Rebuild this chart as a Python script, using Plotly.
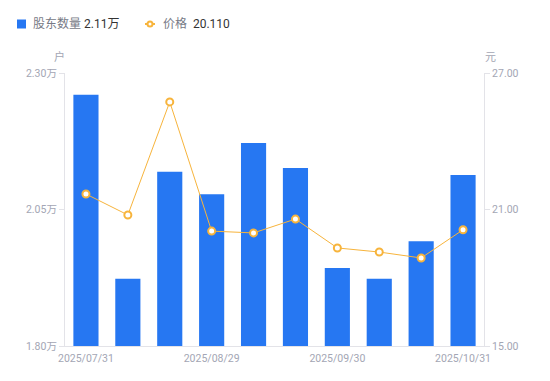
import plotly.graph_objects as go

dates = ["2025/07/31", "2025/08/08", "2025/08/20", "2025/08/29", "2025/09/10",
         "2025/09/19", "2025/09/30", "2025/10/10", "2025/10/20", "2025/10/31"]
holders = [2.260, 1.923, 2.119, 2.078, 2.172, 2.126, 1.943, 1.923, 1.992, 2.113]  # 万户
price = [21.68, 20.76, 25.73, 20.05, 19.97, 20.58, 19.31, 19.13, 18.87, 20.11]
shown_ticks = ["2025/07/31", "2025/08/29", "2025/09/30", "2025/10/31"]
left_ticks = [1.80, 2.05, 2.30]
right_ticks = [15.0, 21.0, 27.0]

BLUE = "#2677F2"
ORANGE = "#F7B43C"
TICKC = "#A3A6B4"
AXC = "#E3E3E8"
FONT = "Roboto, 'Noto Sans CJK SC', sans-serif"

fig = go.Figure()
fig.add_trace(go.Bar(x=dates, y=holders, marker=dict(color=BLUE, line=dict(width=0)),
                     width=0.6, yaxis="y", showlegend=False))
fig.add_trace(go.Scatter(x=dates, y=price, yaxis="y2", mode="lines+markers",
                         line=dict(color=ORANGE, width=1),
                         marker=dict(symbol="circle", size=7, color="white",
                                     line=dict(color=ORANGE, width=2)),
                         showlegend=False))

L, R, T, B = 65, 66, 73, 35
W, H = 550, 381
pw, ph = W - L - R, H - T - B

def px(x):
    return (x - L) / pw

def py(y):
    return (H - B - y) / ph

annotations = [
    dict(x=px(31), y=py(24), xref="paper", yref="paper", xanchor="left", yanchor="middle",
         text=f"<span style='color:#777A86'>股东数量</span> <span style='color:#333333'>{holders[-1]:.2f}万</span>",
         showarrow=False, font=dict(size=12, family=FONT)),
    dict(x=px(161), y=py(24), xref="paper", yref="paper", xanchor="left", yanchor="middle",
         text=f"<span style='color:#777A86'>价格</span>  <span style='color:#333333'>{price[-1]:.3f}</span>",
         showarrow=False, font=dict(size=12, family=FONT)),
    dict(x=px(59), y=py(57), xref="paper", yref="paper", xanchor="center", yanchor="middle",
         text="户", showarrow=False, font=dict(size=11, color=TICKC, family=FONT)),
    dict(x=px(490), y=py(57), xref="paper", yref="paper", xanchor="center", yanchor="middle",
         text="元", showarrow=False, font=dict(size=11, color=TICKC, family=FONT)),
]
shapes = [
    dict(type="rect", xref="paper", yref="paper", x0=px(17), x1=px(26), y0=py(28.5), y1=py(19.5),
         fillcolor=BLUE, line=dict(width=0)),
    dict(type="line", xref="paper", yref="paper", x0=px(145), x1=px(155), y0=py(24), y1=py(24),
         line=dict(color=ORANGE, width=2)),
    dict(type="circle", xref="paper", yref="paper", x0=px(147.5), x1=px(152.5), y0=py(26.5), y1=py(21.5),
         fillcolor="white", line=dict(color=ORANGE, width=2)),
]

fig.update_layout(
    width=W, height=H, margin=dict(l=L, r=R, t=T, b=B),
    paper_bgcolor="white", plot_bgcolor="white",
    font=dict(family=FONT, size=11, color=TICKC),
    bargap=0.4,
    xaxis=dict(type="category", range=[-0.5, len(dates) - 0.5], tickmode="array",
               tickvals=shown_ticks, ticktext=shown_ticks, ticklabelstandoff=2,
               showline=True, linecolor=AXC, linewidth=1, ticks="", showgrid=False,
               tickfont=dict(size=10.5, color=TICKC), zeroline=False, fixedrange=True),
    yaxis=dict(range=[1.80, 2.30], tickmode="array", tickvals=left_ticks,
               ticktext=[f"{v:.2f}万" for v in left_ticks], showline=True, linecolor=AXC,
               linewidth=1, ticks="outside", ticklen=5, tickcolor=AXC, showgrid=False,
               zeroline=False, tickfont=dict(size=10.5, color=TICKC)),
    yaxis2=dict(range=[15, 27], overlaying="y", side="right", tickmode="array",
                tickvals=right_ticks, ticktext=[f"{v:.2f}" for v in right_ticks],
                showline=True, linecolor=AXC, linewidth=1, ticks="outside", ticklen=5,
                tickcolor=AXC, showgrid=False, zeroline=False,
                tickfont=dict(size=10.5, color=TICKC)),
    annotations=annotations, shapes=shapes,
)

fig.write_html("out.html", config={"displayModeBar": False},
               post_script="document.body.style.margin='0';document.body.style.padding='0';")
